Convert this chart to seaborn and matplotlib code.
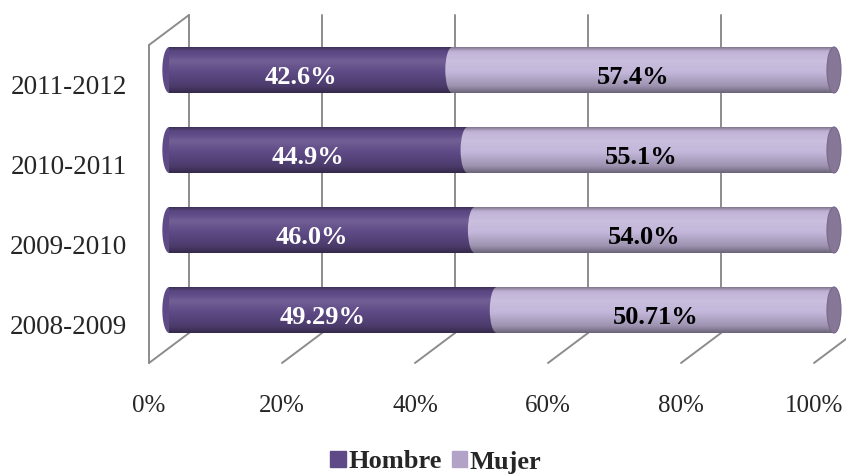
import numpy as np
import matplotlib
matplotlib.use("Agg")
import matplotlib.pyplot as plt
import matplotlib.patches as patches
from matplotlib.transforms import ScaledTranslation
import seaborn as sns

sns.set_style("white")
plt.rcParams["font.family"] = ["Liberation Serif", "DejaVu Serif"]

years = ["2011-2012", "2010-2011", "2009-2010", "2008-2009"]
hombre = [42.6, 44.9, 46.0, 49.29]
mujer = [57.4, 55.1, 54.0, 50.71]
hombre_labels = ["42.6%", "44.9%", "46.0%", "49.29%"]
mujer_labels = ["57.4%", "55.1%", "54.0%", "50.71%"]
xticks = [0, 20, 40, 60, 80, 100]
xtick_labels = ["0%", "20%", "40%", "60%", "80%", "100%"]

hombre_color = "#5E4A86"
mujer_color = "#C3B6DA"
cap_color = "#877797"
grid_color = "#8C8C8C"

total = [h + m for h, m in zip(hombre, mujer)]

W, H, DPI = 846, 474, 100
fig = plt.figure(figsize=(W / DPI, H / DPI), dpi=DPI)
# axes = middle depth plane of the fake 3d box
ax_l, ax_r, ax_t, ax_b = 169, 834, 30, 348
ax = fig.add_axes([ax_l / W, 1 - ax_b / H, (ax_r - ax_l) / W, (ax_b - ax_t) / H])

bar_h = 0.575
sns.barplot(x=total, y=years, color=mujer_color, width=bar_h, orient="h",
            saturation=1, errorbar=None, ax=ax, zorder=2, linewidth=0, edgecolor="none")
sns.barplot(x=hombre, y=years, color=hombre_color, width=bar_h, orient="h",
            saturation=1, errorbar=None, ax=ax, zorder=2, linewidth=0, edgecolor="none")

y_top, y_bot = -0.5, 3.475
px_x = (ax_r - ax_l) / 100
px_y = (ax_b - ax_t) / (y_bot - y_top)
dx = 20 / px_x   # half depth, in data units
dy = 15 / px_y

# back wall, floor and side wall
line_kw = dict(color=grid_color, lw=1.4, zorder=0, clip_on=False)
for t in xticks:
    ax.plot([t + dx, t + dx], [y_top - dy, y_bot - dy], **line_kw)
    ax.plot([t - dx, t + dx], [y_bot + dy, y_bot - dy], **line_kw)
ax.plot([-dx, -dx], [y_top + dy, y_bot + dy], **line_kw)
ax.plot([-dx, dx], [y_top + dy, y_top - dy], **line_kw)

# cylinder shading
nodes = [0, 0.08, 0.3, 0.55, 0.85, 1.0]
shade = [-0.35, -0.05, 0.12, 0.0, -0.2, -0.45]
tt = np.linspace(0, 1, 100)
s = np.interp(tt, nodes, shade)
grad = np.zeros((100, 1, 4))
grad[:, 0, :3] = (s > 0)[:, None] * 1.0
grad[:, 0, 3] = np.abs(s)

a = 7 / px_x
b = bar_h / 2
theta = np.linspace(np.pi / 2, 3 * np.pi / 2, 40)
for i in range(len(years)):
    yc = i
    arc = np.column_stack([a * np.cos(theta) + 0.05, yc - b * np.sin(theta)])
    ax.add_patch(patches.Polygon(arc, closed=True, facecolor=hombre_color,
                                 edgecolor="none", zorder=2.05, clip_on=False))
    ax.add_patch(patches.Ellipse((hombre[i], yc), 2 * a, 2 * b, facecolor=mujer_color,
                                 edgecolor="none", zorder=2.05))
    outline = np.vstack([arc, [[total[i], yc + b], [total[i], yc - b]]])
    clip = patches.Polygon(outline, closed=True, transform=ax.transData)
    ax.imshow(grad, extent=[-a, total[i], yc + b, yc - b], aspect="auto",
              interpolation="bilinear", zorder=2.5, clip_path=clip)
    ax.add_patch(patches.Ellipse((total[i], yc), 2 * a, 2 * b, facecolor=cap_color,
                                 edgecolor="#76678C", lw=0.8, zorder=3, clip_on=False))

    off = ax.transData + ScaledTranslation(-0.10, -0.07, fig.dpi_scale_trans)
    ax.text(hombre[i] / 2, yc, hombre_labels[i], ha="center", va="center", color="white",
            fontsize=19, fontweight="bold", transform=off, zorder=4)
    ax.text(hombre[i] + mujer[i] / 2, yc, mujer_labels[i], ha="center", va="center",
            color="black", fontsize=19, fontweight="bold", transform=off, zorder=4)

ax.set_xlim(0, 100)
ax.set_ylim(y_bot, y_top)
ax.set_xticks(xticks, xtick_labels)
ax.set_xlabel("")
ax.set_ylabel("")
ax.tick_params(axis="x", length=0, pad=34, labelsize=18)
ax.tick_params(axis="y", length=0, pad=30, labelsize=19.5)
sns.despine(ax=ax, left=True, bottom=True)

# labels sit on the front plane
for lbl in ax.get_xticklabels():
    lbl.set_transform(lbl.get_transform() + ScaledTranslation(-0.20, 0, fig.dpi_scale_trans))
for lbl in ax.get_yticklabels():
    lbl.set_transform(lbl.get_transform() + ScaledTranslation(0, -0.15, fig.dpi_scale_trans))

handles = [patches.Patch(color=hombre_color, label="Hombre"),
           patches.Patch(color="#B3A2C7", label="Mujer")]
fig.legend(handles=handles, loc="center", bbox_to_anchor=(436 / W, 1 - 462 / H), ncol=2,
           frameon=False, prop={"weight": "bold", "size": 19}, handlelength=0.57,
           handleheight=0.57, handletextpad=0.1, columnspacing=0.4)

fig.savefig("out.png", dpi=DPI)
